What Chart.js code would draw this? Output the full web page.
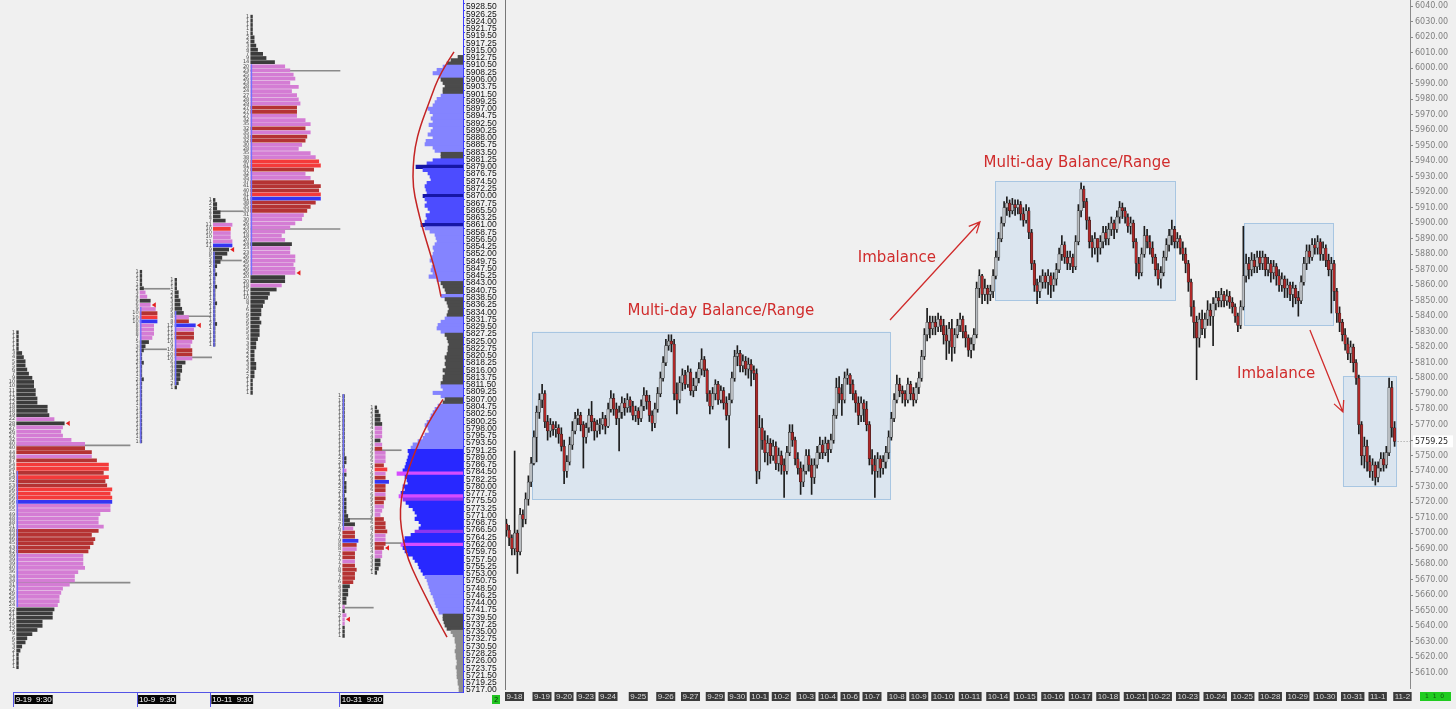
<!DOCTYPE html>
<html>
<head>
<meta charset="utf-8">
<script src="https://cdn.jsdelivr.net/npm/chart.js@4.4.1/dist/chart.umd.min.js"></script>
<style>
html, body { margin: 0; padding: 0; background: #f0f0f0; }
#wrap { position: relative; width: 1456px; height: 709px; overflow: hidden; }
#profile { position: absolute; left: 0; top: 0; }
#candles { position: absolute; left: 505px; top: 0; }
</style>
</head>
<body>
<div id="wrap">
  <canvas id="profile" width="505" height="709"></canvas>
  <canvas id="candles" width="951" height="709"></canvas>
</div>
<script>
"use strict";

// ---------- candle chart: one inner array per session, open = prior bar close ----------
var days = ["9-18", "9-19", "9-20", "9-23", "9-24", "9-25", "9-26", "9-27", "9-29", "9-30",
            "10-1", "10-2", "10-3", "10-4", "10-6", "10-7", "10-8", "10-9", "10-10", "10-11",
            "10-14", "10-15", "10-16", "10-17", "10-18", "10-21", "10-22", "10-23", "10-24", "10-25",
            "10-28", "10-29", "10-30", "10-31", "11-1", "11-2"];
var firstOpen = 5706;
var lastPrice = 5759.25;

var closes = [
    [5702, 5697, 5690, 5700, 5688, 5712, 5709, 5722, 5733, 5745],
    [5762, 5778, 5786, 5790, 5772, 5766, 5770, 5767],
    [5768, 5764, 5756, 5740, 5746, 5757, 5766, 5774],
    [5776, 5770, 5762, 5768, 5776, 5772, 5766, 5770],
    [5770, 5774, 5769, 5780, 5787, 5780, 5774, 5778, 5784, 5781, 5786],
    [5782, 5776, 5779, 5774, 5782, 5789, 5785, 5776, 5771, 5780],
    [5790, 5800, 5810, 5821, 5824, 5822, 5790, 5786, 5797],
    [5802, 5796, 5804, 5792, 5795, 5800, 5806, 5812, 5805],
    [5790, 5782, 5790, 5796, 5786, 5792, 5784, 5776],
    [5786, 5800, 5814, 5816, 5808, 5811, 5806, 5809],
    [5805, 5803, 5740, 5768, 5760, 5752, 5758, 5750],
    [5756, 5745, 5750, 5744, 5740, 5752, 5765, 5760, 5748],
    [5742, 5733, 5740, 5750, 5744, 5736, 5744, 5752],
    [5757, 5752, 5758, 5754, 5760, 5776, 5794, 5790],
    [5786, 5800, 5802, 5796, 5790, 5784, 5776, 5784],
    [5780, 5770, 5748, 5744, 5740, 5748, 5742, 5746, 5752],
    [5762, 5774, 5786, 5796, 5792, 5790, 5786, 5796],
    [5790, 5786, 5794, 5800, 5814, 5828, 5836, 5832],
    [5836, 5833, 5838, 5834, 5828, 5824, 5832, 5820, 5828, 5834],
    [5838, 5830, 5826, 5818, 5822, 5828, 5858, 5866, 5854, 5858],
    [5854, 5856, 5866, 5878, 5890, 5900, 5910, 5913, 5908, 5912],
    [5910, 5912, 5906, 5902, 5908, 5894, 5874, 5860, 5856, 5862],
    [5866, 5862, 5866, 5860, 5864, 5870, 5880, 5886, 5878, 5874],
    [5878, 5872, 5888, 5908, 5922, 5914, 5902, 5888, 5884, 5890],
    [5884, 5888, 5894, 5890, 5896, 5900, 5896, 5904, 5910, 5908],
    [5904, 5898, 5900, 5888, 5874, 5868, 5880, 5892, 5888],
    [5884, 5878, 5870, 5864, 5868, 5878, 5886, 5892, 5896, 5888],
    [5890, 5884, 5880, 5874, 5862, 5846, 5836, 5826, 5838, 5832],
    [5838, 5844, 5840, 5848, 5852, 5850, 5854, 5850, 5853, 5849],
    [5846, 5840, 5834, 5846, 5866, 5874, 5870, 5876, 5872, 5878],
    [5874, 5878, 5870, 5874, 5868, 5872, 5866, 5860, 5864, 5858],
    [5860, 5854, 5858, 5852, 5850, 5862, 5874, 5882, 5878, 5886],
    [5884, 5888, 5880, 5884, 5876, 5870, 5874, 5856, 5842, 5836],
    [5828, 5822, 5816, 5820, 5810, 5800, 5770, 5750, 5756, 5746],
    [5740, 5744, 5736, 5742, 5748, 5744, 5752, 5794, 5768],
    [5759.25]
];
var highs = [
    [5709, 5705, 5699, 5753, 5702, 5716, 5715, 5726, 5737, 5749],
    [5766, 5782, 5790, 5796, 5792, 5776, 5774, 5772],
    [5772, 5770, 5768, 5760, 5750, 5762, 5772, 5778],
    [5780, 5778, 5772, 5771, 5780, 5785, 5774, 5773],
    [5774, 5778, 5776, 5784, 5792, 5790, 5784, 5782, 5788, 5787, 5790],
    [5788, 5785, 5782, 5781, 5786, 5794, 5792, 5789, 5779, 5784],
    [5794, 5804, 5814, 5825, 5828, 5828, 5825, 5797, 5801],
    [5806, 5805, 5808, 5806, 5800, 5804, 5810, 5819, 5814],
    [5806, 5792, 5794, 5799, 5798, 5795, 5794, 5788],
    [5790, 5804, 5818, 5821, 5818, 5815, 5814, 5813],
    [5812, 5808, 5806, 5776, 5774, 5766, 5763, 5761],
    [5760, 5759, 5755, 5753, 5748, 5756, 5770, 5770, 5762],
    [5752, 5746, 5744, 5754, 5754, 5748, 5748, 5756],
    [5762, 5760, 5762, 5760, 5764, 5780, 5800, 5801],
    [5796, 5804, 5806, 5803, 5799, 5792, 5788, 5788],
    [5786, 5785, 5772, 5754, 5750, 5752, 5750, 5750, 5756],
    [5766, 5778, 5790, 5802, 5800, 5795, 5792, 5800],
    [5798, 5794, 5797, 5804, 5818, 5832, 5845, 5840],
    [5840, 5840, 5842, 5840, 5838, 5834, 5836, 5838, 5832, 5838],
    [5842, 5840, 5834, 5828, 5826, 5832, 5862, 5870, 5867, 5864],
    [5860, 5860, 5870, 5882, 5894, 5904, 5914, 5917, 5915, 5916],
    [5915, 5915, 5914, 5910, 5912, 5910, 5896, 5876, 5864, 5866],
    [5870, 5868, 5870, 5868, 5868, 5874, 5884, 5892, 5888, 5882],
    [5882, 5880, 5892, 5912, 5926, 5924, 5916, 5904, 5892, 5894],
    [5890, 5892, 5898, 5898, 5900, 5904, 5902, 5908, 5914, 5913],
    [5910, 5906, 5904, 5902, 5890, 5878, 5884, 5898, 5896],
    [5892, 5888, 5880, 5874, 5872, 5882, 5890, 5896, 5902, 5898],
    [5894, 5892, 5888, 5884, 5876, 5864, 5850, 5840, 5842, 5844],
    [5842, 5850, 5848, 5852, 5856, 5856, 5858, 5856, 5857, 5856],
    [5852, 5848, 5842, 5850, 5898, 5880, 5878, 5881, 5880, 5882],
    [5882, 5882, 5880, 5878, 5876, 5876, 5874, 5870, 5868, 5866],
    [5864, 5862, 5862, 5860, 5856, 5866, 5878, 5886, 5886, 5890],
    [5890, 5892, 5890, 5888, 5886, 5880, 5878, 5876, 5858, 5846],
    [5838, 5832, 5826, 5824, 5822, 5812, 5802, 5772, 5762, 5760],
    [5750, 5748, 5746, 5746, 5752, 5752, 5756, 5800, 5798],
    [5772]
];
var lows = [
    [5698, 5692, 5686, 5686, 5674, 5686, 5704, 5706, 5718, 5730],
    [5744, 5746, 5774, 5781, 5768, 5760, 5762, 5763],
    [5762, 5758, 5753, 5732, 5736, 5744, 5754, 5764],
    [5770, 5766, 5742, 5758, 5765, 5766, 5760, 5762],
    [5764, 5767, 5764, 5768, 5778, 5776, 5770, 5753, 5774, 5776, 5778],
    [5778, 5773, 5772, 5770, 5772, 5779, 5780, 5772, 5766, 5768],
    [5778, 5788, 5798, 5808, 5818, 5817, 5786, 5777, 5784],
    [5792, 5793, 5794, 5789, 5788, 5792, 5797, 5802, 5801],
    [5785, 5777, 5780, 5786, 5783, 5784, 5780, 5773],
    [5755, 5784, 5798, 5808, 5804, 5804, 5802, 5800],
    [5795, 5799, 5732, 5735, 5754, 5746, 5744, 5745],
    [5747, 5741, 5740, 5738, 5723, 5738, 5750, 5756, 5744],
    [5738, 5725, 5730, 5738, 5740, 5725, 5732, 5742],
    [5748, 5748, 5750, 5746, 5752, 5758, 5774, 5784],
    [5776, 5784, 5796, 5790, 5786, 5778, 5770, 5772],
    [5772, 5766, 5744, 5738, 5723, 5736, 5736, 5738, 5742],
    [5748, 5760, 5772, 5784, 5788, 5784, 5782, 5784],
    [5786, 5782, 5784, 5790, 5798, 5812, 5824, 5826],
    [5828, 5828, 5830, 5830, 5822, 5812, 5816, 5811, 5816, 5826],
    [5830, 5826, 5820, 5814, 5813, 5818, 5826, 5852, 5848, 5850],
    [5848, 5850, 5852, 5864, 5876, 5888, 5898, 5905, 5904, 5906],
    [5905, 5906, 5902, 5898, 5900, 5890, 5870, 5856, 5848, 5852],
    [5858, 5858, 5854, 5852, 5856, 5860, 5868, 5876, 5874, 5870],
    [5870, 5868, 5870, 5886, 5904, 5910, 5896, 5884, 5878, 5880],
    [5875, 5880, 5884, 5886, 5886, 5892, 5890, 5894, 5900, 5903],
    [5900, 5894, 5893, 5884, 5866, 5864, 5866, 5878, 5884],
    [5880, 5874, 5866, 5860, 5858, 5866, 5876, 5882, 5886, 5884],
    [5884, 5880, 5876, 5868, 5856, 5840, 5826, 5799, 5820, 5828],
    [5826, 5834, 5834, 5821, 5844, 5846, 5846, 5846, 5847, 5845],
    [5842, 5836, 5830, 5832, 5844, 5862, 5864, 5866, 5868, 5868],
    [5870, 5870, 5866, 5866, 5862, 5864, 5860, 5856, 5856, 5852],
    [5852, 5850, 5846, 5848, 5840, 5848, 5860, 5870, 5874, 5876],
    [5880, 5880, 5876, 5876, 5872, 5866, 5842, 5850, 5836, 5830],
    [5824, 5818, 5812, 5810, 5804, 5796, 5764, 5744, 5742, 5740],
    [5736, 5734, 5731, 5733, 5740, 5740, 5742, 5750, 5762],
    [5756]
];

// drawn annotations, in bar index / price units
var boxes = [
    { x0: 9.3, x1: 139.5, lo: 5722, hi: 5830 },
    { x0: 177.7, x1: 243.1, lo: 5850, hi: 5927 },
    { x0: 268.2, x1: 300.6, lo: 5834, hi: 5900 },
    { x0: 304.2, x1: 323.5, lo: 5730.5, hi: 5801.4 }
];
var notes = [
    { text: "Multi-day Balance/Range", x: 78, y: 5843.5 },
    { text: "Multi-day Balance/Range", x: 207.5, y: 5938.8 },
    { text: "Imbalance", x: 142, y: 5877.5 },
    { text: "Imbalance", x: 279.9, y: 5802.7 }
];
var arrows = [
    { x0: 139.5, y0: 5837.5, x1: 172.2, y1: 5900.8 },
    { x0: 292.2, y0: 5831.1, x1: 304.2, y1: 5778.2 }
];

// ---------- market profile panel ----------
var tpoRowStep = 1.28;
var tpoTops = [5827.75, 5846.5, 5844, 5868.75, 5925.5, 5808, 5804.5];
var tpoBases = [9.8, 82.4, 102.9, 125.5, 147.5, 201.6, 220.6];   // layout, in TPO widths
var tpoCounts1 = [1, 1, 1, 1, 1, 3, 4, 5, 5, 6, 7, 9, 10, 10, 11, 11, 12, 12, 18, 18, 19,
    22, 28, 27, 26, 27, 32, 40, 40, 44, 44, 47, 54, 54, 51, 54, 52, 53, 56, 55, 56, 56, 55, 55, 49, 48,
    48, 51, 48, 44, 46, 45, 43, 42, 39, 39, 39, 40, 36, 34, 34, 31, 27, 26, 25, 25, 24,
    22, 21, 21, 15, 15, 12, 9, 6, 5, 3, 2, 1, 1, 1, 1];
var tpoCodes1 = "kkkkkkkkkkkkkkkkkkkkk" + "pk" + "ppppp" + "rrprRRrRrrRRRb" + "pppppp" + "rrrrrr" + "ppppppppppppp" + "kkkkkkkkkkkkkkk";
var tpoCounts2 = [1, 1, 1, 1, 2, 3, 4, 6, 6, 9, 10, 10, 10, 8, 8, 8, 7, 5, 3, 2, 1, 1, 2, 1, 1, 1, 2,
    1, 1, 1, 1, 1, 1, 1, 1, 1, 1, 1, 1, 1, 1, 1];
var tpoCodes2 = "kkkkk" + "pp" + "k" + "pp" + "rRb" + "pppp" + "kkkkkkkkkkkkkkkkkkkkkkkkk";
var tpoCounts3 = [1, 1, 1, 2, 2, 3, 3, 4, 5, 8, 8, 12, 11, 11, 11, 10, 9, 10, 10, 10, 6, 4, 4, 3, 3, 2, 1];
var tpoCodes3 = "kkkkkkkkk" + "prbprrpprrp" + "kkkkkkk";
var tpoCounts4 = [1, 2, 2, 4, 4, 7, 11, 10, 10, 10, 11, 11, 9, 8, 5, 4,
    2, 1, 2, 1, 1, 2, 1, 1, 1, 2, 1, 1, 1, 1, 2, 1, 1, 1, 1, 1];
var tpoCodes4 = "kkkkkk" + "pRpppb" + "kkkk" + "kkkkkkkkkkkkkkkkkkkk";
var tpoCounts5 = [1, 1, 1, 1, 1, 2, 2, 3, 4, 7, 9, 14,
    20, 23, 25, 26, 23, 28, 24, 27, 28, 29, 27, 27, 27, 32, 35, 32, 35, 33, 32, 30, 28, 35, 38, 40, 41,
    37, 32, 35, 37, 41, 40, 41, 41, 38, 35, 33, 31, 30, 26, 23, 20, 18, 20, 24, 23, 23, 26, 26, 25, 26, 26,
    20, 20, 18, 15, 11, 10, 8, 7, 6, 6, 5, 6, 5, 5, 5, 4, 3, 3, 2, 2, 2, 3, 3, 2, 2, 1, 1, 1, 1];
var tpoCodes5 = "kkkkkkkkkkkk" + "pppppppppp" + "rr" + "ppp" + "r" + "p" + "rr" + "pppp" + "RR" + "r" + "pp" +
    "rrr" + "R" + "b" + "rrr" + "ppppppp" + "k" + "ppppppp" + "kk" + "p" + "kkkkkkkkkkkkkkkkkkkkkkkkkk";
var tpoCounts6 = [1, 1, 1, 1, 1, 1, 1, 1, 1, 1, 1, 1, 1, 1, 1, 2, 2, 1, 2, 2, 1, 2, 2, 2, 1, 2, 2, 2, 2,
    3, 4, 7, 6, 7, 7, 9, 8, 8, 7, 7, 7, 7, 8, 7, 7, 6, 4, 3, 3, 2, 2, 1, 1, 2, 1, 1, 1, 1, 1];
var tpoCodes6 = "kkkkkkkkkkkkkkkkkk" + "p" + "kkkkkkkkkk" + "kkk" + "prrbrprrprrrrr" + "kkkkk" + "pkppp" + "kkk";
var tpoCounts7 = [1, 2, 3, 3, 4, 4, 4, 4, 3, 4, 4, 6, 6, 6, 5, 7, 6, 6, 8, 6, 6, 6, 6, 5, 5, 4, 3,
    5, 6, 6, 7, 6, 6, 6, 5, 4, 4, 3, 3, 2, 1];
var tpoCodes7 = "kkkkk" + "ppp" + "k" + "p" + "r" + "ppp" + "r" + "R" + "p" + "r" + "b" + "rr" + "p" + "rr" +
    "ppp" + "rrrr" + "pp" + "rr" + "pp" + "kkkk";
var tpoCloseRow = [22, 8, 11, 12, 62, 54, 34];
var tpoIbRows = [[34, 66], [9, 41], [8, 25], [13, 35], [12, 62], [0, 32], null];
// value area edge lines: profile, price, end (TPO widths)
var vaLines = [[0, 5792.75, 76.5], [0, 5750.25, 76.5], [1, 5841.25, 100], [1, 5822.5, 98],
    [2, 5832.75, 123.5], [2, 5820, 124.5], [3, 5865.25, 143], [3, 5850, 142],
    [4, 5908.75, 200], [4, 5859.75, 200], [5, 5770, 218.6], [5, 5742.5, 219.6],
    [6, 5791.25, 236], [6, 5762.5, 236]];
var sessions = [["9-19  9:30", 0], ["10-9  9:30", 1], ["10-11  9:30", 3], ["10-31  9:30", 5]];

// volume profile, 1 point rows from volTop downwards
var volTop = 5913;
var volWidths = [
    5, 12, 16, 20, 26, 30, 24, 22, 20, 18, 20, 20, 22, 26, 28, 30, 35, 33, 30, 32,
    30, 34, 30, 32, 35, 30, 37, 38, 30, 28, 22, 22, 30, 36, 47, 40, 35, 33, 32, 36,
    38, 37, 36, 40, 38, 36, 38, 35, 33, 37, 36, 38, 42, 38, 33, 28, 27, 26, 28, 30,
    29, 30, 31, 33, 30, 31, 32, 30, 34, 26, 22, 20, 18, 17, 22, 18, 16, 15, 14, 15,
    16, 18, 22, 25, 26, 22, 18, 16, 15, 14, 15, 15, 16, 18, 17, 18, 17, 20, 18, 20,
    20, 22,
    22, 20, 30, 22, 18, 20, 25, 28, 30, 32, 33, 36, 38, 35, 34, 38, 40, 45, 50, 52,
    55, 54, 55, 56, 57, 58, 60, 66, 58, 56, 55, 60, 58, 62, 64, 60, 57, 54, 50, 48,
    46, 48, 44, 42, 44, 48, 52, 58, 60, 62, 60, 58, 55, 50, 48, 45, 44, 42, 40, 38,
    36, 35, 34, 33, 32, 30, 29, 28, 27, 25, 24, 20, 20, 19, 18, 16, 12, 10, 8, 8,
    7, 7, 8, 7, 7, 6, 6, 7, 6, 6, 6, 5, 5, 4, 4];
var volBands = [
    [5879, 5879, "d"], [5870, 5870, "d"], [5861, 5861, "d"],
    [5784, 5784, "p"], [5777, 5777, "p"], [5762, 5762, "p"], [5776, 5776, "v"], [5766, 5766, "v"],
    [5913, 5911, "g"], [5910, 5907, "l"], [5906, 5902, "g"], [5901, 5884, "l"], [5883, 5882, "g"],
    [5881, 5862, "m"], [5860, 5844, "l"], [5843, 5840, "g"], [5839, 5839, "l"], [5838, 5833, "g"],
    [5832, 5828, "l"], [5827, 5812, "g"], [5811, 5808, "l"], [5807, 5806, "g"], [5805, 5792, "l"],
    [5791, 5753, "B"], [5752, 5741, "l"], [5740, 5736, "g"], [5735, 5717, "G"]];
var upperCurve = [[9, 5914.6], [23, 5908], [33, 5899.7], [43, 5891.4], [48, 5885.2], [50, 5879], [50, 5872.8],
    [46, 5866.7], [40, 5859.5], [33, 5852.4], [26, 5845], [22, 5838.8]];
var lowerCurve = [[20, 5807], [33, 5800.8], [43, 5794.6], [51, 5788.4], [58, 5782.2], [62, 5776], [63, 5769.9],
    [60, 5763.7], [55, 5757.5], [46, 5751.3], [36, 5745.1], [26, 5739], [16, 5733.4]];

var tpoColors = { k: "#3c3c3c", p: "#d47cd4", r: "#b53333", R: "#f43a3a", b: "#3535f2" };
var volColors = { g: "#4b4b4b", G: "#8e8e8e", l: "#8484ff", m: "#4c4cff", B: "#2828ff", d: "#1616a6", p: "#d64cff", v: "#8c36f0" };

Chart.defaults.font.family = "'DejaVu Sans', sans-serif";

var profiles = [
    { counts: tpoCounts1, codes: tpoCodes1 }, { counts: tpoCounts2, codes: tpoCodes2 },
    { counts: tpoCounts3, codes: tpoCodes3 }, { counts: tpoCounts4, codes: tpoCodes4 },
    { counts: tpoCounts5, codes: tpoCodes5 }, { counts: tpoCounts6, codes: tpoCodes6 },
    { counts: tpoCounts7, codes: tpoCodes7 }
];
profiles.forEach(function (p, n) {
    p.top = tpoTops[n];
    p.base = tpoBases[n];
    p.close = tpoCloseRow[n];
    p.ib = tpoIbRows[n];
});

function rowPrice(p, i) {
    return p.top - i * tpoRowStep;
}

function volKind(price) {
    for (var i = 0; i < volBands.length; i++) {
        if (price <= volBands[i][0] && price >= volBands[i][1]) return volBands[i][2];
    }
    return "g";
}

var ladderTicks = [];
for (var t = 5717; t <= 5928.5; t += 2.25) ladderTicks.push(t);

var profileSets = [];
profileSets.push({
    data: vaLines.map(function (v) { return { y: v[1], x: [tpoBases[v[0]], v[2]] }; }),
    xAxisID: "x", backgroundColor: "#8a8a8a", barThickness: 1, grouped: false, order: 3
});
profiles.forEach(function (p) {
    profileSets.push({
        data: p.counts.map(function (c, i) { return { y: rowPrice(p, i), x: [p.base, p.base + c] }; }),
        xAxisID: "x",
        backgroundColor: p.codes.split("").map(function (k) { return tpoColors[k]; }),
        barThickness: 3.1, grouped: false, order: 1
    });
});
profileSets.push({
    data: volWidths.map(function (w, i) { return { y: volTop - i, x: [0, w] }; }),
    xAxisID: "xv",
    backgroundColor: volWidths.map(function (w, i) { return volColors[volKind(volTop - i)]; }),
    barThickness: 3.4, grouped: false, order: 2
});

function smoothPath(ctx, pts) {
    ctx.beginPath();
    ctx.moveTo(pts[0][0], pts[0][1]);
    for (var i = 1; i < pts.length - 1; i++) {
        ctx.quadraticCurveTo(pts[i][0], pts[i][1], (pts[i][0] + pts[i + 1][0]) / 2, (pts[i][1] + pts[i + 1][1]) / 2);
    }
    ctx.lineTo(pts[pts.length - 1][0], pts[pts.length - 1][1]);
    ctx.stroke();
}

var profileDecor = {
    id: "profileDecor",
    afterDatasetsDraw: function (chart) {
        var ctx = chart.ctx, xs = chart.scales.x, xv = chart.scales.xv, ys = chart.scales.y;
        ctx.save();
        profiles.forEach(function (p) {
            var px = xs.getPixelForValue(p.base);
            ctx.font = "5px 'DejaVu Sans'";
            ctx.fillStyle = "#4a4a4a";
            ctx.textAlign = "right";
            ctx.textBaseline = "middle";
            p.counts.forEach(function (c, i) {
                ctx.fillText(String(c), px - 1.5, ys.getPixelForValue(rowPrice(p, i)));
            });
            if (p.ib) {
                ctx.strokeStyle = "#7272ff";
                ctx.lineWidth = 1.4;
                ctx.beginPath();
                ctx.moveTo(px + 0.7, ys.getPixelForValue(rowPrice(p, p.ib[0])) - 2);
                ctx.lineTo(px + 0.7, ys.getPixelForValue(rowPrice(p, p.ib[1])) + 2);
                ctx.stroke();
            }
            var cy = ys.getPixelForValue(rowPrice(p, p.close));
            var cx = xs.getPixelForValue(p.base + p.counts[p.close]) + 1.5;
            ctx.fillStyle = "#e41e1e";
            ctx.beginPath();
            ctx.moveTo(cx, cy);
            ctx.lineTo(cx + 4, cy - 2.6);
            ctx.lineTo(cx + 4, cy + 2.6);
            ctx.closePath();
            ctx.fill();
        });
        ctx.strokeStyle = "#c42424";
        ctx.lineWidth = 1.5;
        [upperCurve, lowerCurve].forEach(function (curve) {
            smoothPath(ctx, curve.map(function (q) { return [xv.getPixelForValue(q[0]), ys.getPixelForValue(q[1])]; }));
        });
        ctx.restore();
    },
    afterDraw: function (chart) {
        var ctx = chart.ctx, xs = chart.scales.x, area = chart.chartArea;
        var yb = area.bottom;
        ctx.save();
        ctx.strokeStyle = "#5454e6";
        ctx.lineWidth = 1;
        var first = xs.getPixelForValue(tpoBases[0]) - 3.5;
        ctx.beginPath();
        ctx.moveTo(first, yb + 0.5);
        ctx.lineTo(area.right, yb + 0.5);
        ctx.stroke();
        ctx.font = "8px 'Liberation Sans'";
        ctx.textBaseline = "middle";
        ctx.textAlign = "left";
        sessions.forEach(function (s) {
            var bx = xs.getPixelForValue(tpoBases[s[1]]);
            var sx = Math.round(bx - 3.5) + 0.5;
            ctx.strokeStyle = "#5454e6";
            ctx.beginPath();
            ctx.moveTo(sx, yb);
            ctx.lineTo(sx, yb + 15);
            ctx.stroke();
            var w = ctx.measureText(s[0]).width + 2;
            ctx.fillStyle = "#050505";
            ctx.fillRect(bx - 2, yb + 3, w, 9);
            ctx.fillStyle = "#ffffff";
            ctx.fillText(s[0], bx - 1, yb + 7.8);
        });
        ctx.fillStyle = "#22c422";
        ctx.fillRect(492, yb + 3, 8, 9);
        ctx.fillStyle = "#0a3a0a";
        ctx.font = "7px 'DejaVu Sans'";
        ctx.fillText("2", 494, yb + 7.8);
        ctx.restore();
    }
};

new Chart(document.getElementById("profile"), {
    type: "bar",
    data: { datasets: profileSets },
    options: {
        indexAxis: "y",
        animation: false,
        responsive: false,
        devicePixelRatio: 1,
        layout: { padding: { left: 0, right: 0, top: 0, bottom: 17 } },
        plugins: { legend: { display: false }, tooltip: { enabled: false } },
        scales: {
            x : { type: "linear", min: 0, max: 272.35, display: false },
            xv: { type: "linear", min: 0, max: 463, reverse: true, display: false },
            y : {
                type: "linear", position: "right", offset: false,
                min: 5716.38, max: 5930.67,
                afterBuildTicks: function (s) { s.ticks = ladderTicks.map(function (v) { return { value: v }; }); },
                afterFit: function (s) { s.width = 42; s.paddingTop = 0; s.paddingBottom = 0; },
                ticks: {
                    autoSkip: false, padding: 1, color: "#111111",
                    font: { family: "'Liberation Sans', sans-serif", size: 8.5 },
                    callback: function (v) { return Number(v).toFixed(2); }
                },
                grid: { drawOnChartArea: false, color: "#3c3cff", tickLength: 2 },
                border: { color: "#3c3cff" }
            }
        }
    },
    plugins: [profileDecor]
});

// ---------- candles ----------
var bars = [];
var dayStart = [];
var prev = firstOpen;
closes.forEach(function (day, d) {
    dayStart.push(bars.length);
    day.forEach(function (c, k) {
        bars.push({ x: bars.length, o: prev, h: highs[d][k], l: lows[d][k], c: c });
        prev = c;
    });
});

var priceTicks = [];
for (var pt = 5610; pt <= 6040; pt += 10) priceTicks.push(pt);

var candleDecor = {
    id: "candleDecor",
    beforeDatasetsDraw: function (chart) {
        var ctx = chart.ctx, xs = chart.scales.x, ys = chart.scales.y;
        ctx.save();
        boxes.forEach(function (b) {
            var x0 = xs.getPixelForValue(b.x0), x1 = xs.getPixelForValue(b.x1);
            var y0 = ys.getPixelForValue(b.hi), y1 = ys.getPixelForValue(b.lo);
            ctx.fillStyle = "rgba(190, 214, 238, 0.42)";
            ctx.fillRect(x0, y0, x1 - x0, y1 - y0);
            ctx.strokeStyle = "#a8c6e2";
            ctx.lineWidth = 1;
            ctx.strokeRect(Math.round(x0) + 0.5, Math.round(y0) + 0.5, Math.round(x1 - x0), Math.round(y1 - y0));
        });
        ctx.restore();
    },
    afterDatasetsDraw: function (chart) {
        var ctx = chart.ctx, xs = chart.scales.x, ys = chart.scales.y, area = chart.chartArea;
        ctx.save();
        ctx.fillStyle = "#d02c2c";
        ctx.font = "15px 'DejaVu Sans'";
        ctx.textAlign = "center";
        ctx.textBaseline = "middle";
        notes.forEach(function (n) {
            ctx.fillText(n.text, xs.getPixelForValue(n.x), ys.getPixelForValue(n.y));
        });
        ctx.strokeStyle = "#d02c2c";
        ctx.lineWidth = 1.3;
        arrows.forEach(function (a) {
            var x0 = xs.getPixelForValue(a.x0), y0 = ys.getPixelForValue(a.y0);
            var x1 = xs.getPixelForValue(a.x1), y1 = ys.getPixelForValue(a.y1);
            var ang = Math.atan2(y1 - y0, x1 - x0);
            ctx.beginPath();
            ctx.moveTo(x0, y0);
            ctx.lineTo(x1, y1);
            ctx.moveTo(x1 - 12 * Math.cos(ang - 0.45), y1 - 12 * Math.sin(ang - 0.45));
            ctx.lineTo(x1, y1);
            ctx.lineTo(x1 - 12 * Math.cos(ang + 0.45), y1 - 12 * Math.sin(ang + 0.45));
            ctx.stroke();
        });
        var py = Math.round(ys.getPixelForValue(lastPrice)) + 0.5;
        ctx.strokeStyle = "#9a9a9a";
        ctx.lineWidth = 1;
        ctx.setLineDash([1, 2]);
        ctx.beginPath();
        ctx.moveTo(xs.getPixelForValue(bars.length - 1) + 3, py);
        ctx.lineTo(area.right, py);
        ctx.stroke();
        ctx.restore();
    },
    afterDraw: function (chart) {
        var ctx = chart.ctx, xs = chart.scales.x, ys = chart.scales.y, area = chart.chartArea;
        ctx.save();
        ctx.strokeStyle = "#777777";
        ctx.lineWidth = 1;
        ctx.beginPath();
        ctx.moveTo(area.left + 0.5, 0);
        ctx.lineTo(area.left + 0.5, area.bottom + 2);
        ctx.stroke();
        ctx.font = "8px 'Liberation Sans'";
        ctx.textAlign = "left";
        ctx.textBaseline = "middle";
        days.forEach(function (d, i) {
            var px = xs.getPixelForValue(dayStart[i] - 0.5);
            var w = ctx.measureText(d).width + 3;
            ctx.fillStyle = "#3b3b3b";
            ctx.fillRect(px, area.bottom + 4, w, 9);
            ctx.fillStyle = "#dcdcdc";
            ctx.fillText(d, px + 1.5, area.bottom + 8.8);
        });
        var py = ys.getPixelForValue(lastPrice);
        ctx.fillStyle = "#ffffff";
        ctx.fillRect(area.right + 3, py - 6, 40, 12);
        ctx.fillStyle = "#2a2a2a";
        ctx.font = "8px 'DejaVu Sans'";
        ctx.fillText(lastPrice.toFixed(2), area.right + 5, py + 0.5);
        ctx.fillStyle = "#20cc20";
        ctx.fillRect(area.right + 10, area.bottom + 4, 31, 9);
        ctx.fillStyle = "#0e5a0e";
        ctx.font = "6px 'DejaVu Sans'";
        ctx.fillText("1  1  0", area.right + 15, area.bottom + 8.8);
        ctx.restore();
    }
};

new Chart(document.getElementById("candles"), {
    type: "bar",
    data: {
        datasets: [
            {
                label: "wick",
                data: bars.map(function (b) { return { x: b.x, y: [Math.min(b.l, b.o, b.c), Math.max(b.h, b.o, b.c)] }; }),
                backgroundColor: "#1c1c1c", barThickness: 1, grouped: false, order: 2
            },
            {
                label: "body",
                data: bars.map(function (b) { return { x: b.x, y: [b.o, b.c] }; }),
                backgroundColor: bars.map(function (b) { return b.c < b.o ? "#ad2828" : "#b9bdc1"; }),
                borderColor: "#1e1e1e", borderWidth: 0.5, borderSkipped: false, minBarLength: 1,
                barThickness: 2.6, grouped: false, order: 1
            }
        ]
    },
    options: {
        animation: false,
        responsive: false,
        devicePixelRatio: 1,
        layout: { padding: { left: 0, right: 0, top: 0, bottom: 21 } },
        plugins: { legend: { display: false }, tooltip: { enabled: false } },
        scales: {
            x: { type: "linear", min: -0.5, max: 328.6, offset: false, display: false },
            y: {
                type: "linear", position: "right", min: 5600.1, max: 6044,
                afterBuildTicks: function (s) { s.ticks = priceTicks.map(function (v) { return { value: v }; }); },
                afterFit: function (s) { s.width = 46; s.paddingTop = 0; s.paddingBottom = 0; },
                ticks: {
                    autoSkip: false, padding: 2, color: "#808080",
                    font: { family: "'DejaVu Sans', sans-serif", size: 8 },
                    callback: function (v) { return Math.abs(v - 5760) < 0.01 ? "" : Number(v).toFixed(2); }
                },
                grid: { drawOnChartArea: false, color: "#8a8a8a", tickLength: 3 },
                border: { color: "#8a8a8a" }
            }
        }
    },
    plugins: [candleDecor]
});
</script>
</body>
</html>
